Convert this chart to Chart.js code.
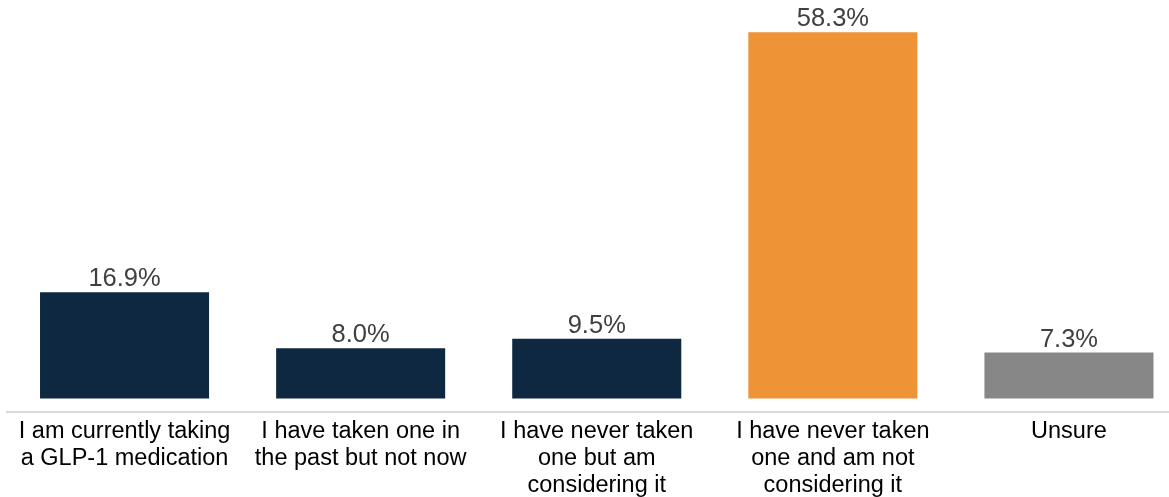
<!DOCTYPE html>
<html>
<head>
<meta charset="utf-8">
<script src="https://cdn.jsdelivr.net/npm/chart.js@4/dist/chart.umd.min.js"></script>
<style>
  html, body { margin: 0; padding: 0; background: #fff; overflow: hidden; }
  #wrap { position: relative; width: 1187px; height: 505px; }
</style>
</head>
<body>
<div id="wrap"><canvas id="chart"></canvas></div>
<script>
/* ══════════════════════════════════════
   DATA
══════════════════════════════════════ */
const categories = [
  ["I am currently taking", "a GLP-1 medication"],
  ["I have taken one in", "the past but not now"],
  ["I have never taken", "one but am", "considering it"],
  ["I have never taken", "one and am not", "considering it"],
  ["Unsure"],
];

const shares = [16.9, 8.0, 9.5, 58.3, 7.3];

const barColors = ["#0E2841", "#0E2841", "#0E2841", "#EE9336", "#878787"];

/* ══════════════════════════════════════
   VALUE LABELS ABOVE BARS
══════════════════════════════════════ */
const valueLabels = {
  id: "valueLabels",
  afterDatasetsDraw(chart) {
    const ctx = chart.ctx;
    const meta = chart.getDatasetMeta(0);
    ctx.save();
    ctx.font = "25.5px 'Liberation Sans', Arial, sans-serif";
    ctx.fillStyle = "#404040";
    ctx.textAlign = "center";
    ctx.textBaseline = "alphabetic";
    meta.data.forEach((bar, i) => {
      ctx.fillText(`${shares[i].toFixed(1)}%`, bar.x, bar.y - 6);
    });
    ctx.restore();
  },
};

/* ══════════════════════════════════════
   CHART
══════════════════════════════════════ */
new Chart(document.getElementById("chart"), {
  type: "bar",
  data: {
    labels: categories,
    datasets: [
      {
        data: shares,
        backgroundColor: barColors,
        borderWidth: 0,
        barPercentage: 0.716,
        categoryPercentage: 1,
      },
    ],
  },
  options: {
    responsive: true,
    maintainAspectRatio: false,
    animation: false,
    layout: {
      padding: { left: 6.5, right: 0, top: 9, bottom: 0 },
    },
    plugins: {
      legend: { display: false },
      tooltip: { enabled: false },
    },
    scales: {
      x: {
        grid: { display: false, drawTicks: false },
        border: { display: true, color: "#D9D9D9", width: 2 },
        ticks: {
          color: "#000000",
          padding: 6,
          maxRotation: 0,
          autoSkip: false,
          font: {
            family: "'Liberation Sans', Arial, sans-serif",
            size: 23.5,
            lineHeight: 1.15,
          },
        },
      },
      y: {
        display: false,
        min: -2.15,
        max: 62,
      },
    },
  },
  plugins: [valueLabels],
});
</script>
</body>
</html>
